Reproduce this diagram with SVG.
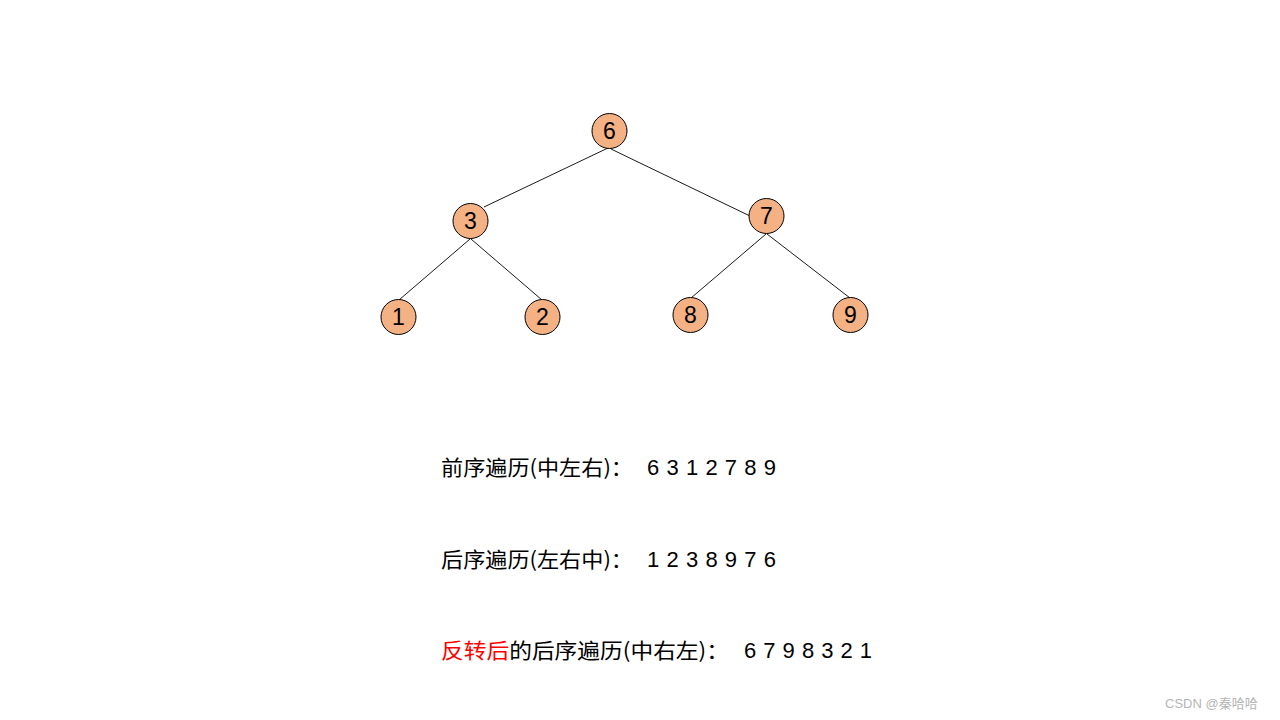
<svg xmlns="http://www.w3.org/2000/svg" width="1280" height="720" viewBox="0 0 1280 720">
<style>
.n circle{fill:#F4B183;stroke:#000;stroke-width:1}
.n text{font-family:"Liberation Sans","Noto Sans CJK SC",sans-serif;font-size:23px;text-anchor:middle;fill:#000}
.e line{stroke:#000;stroke-width:0.9}
.t{font-family:"Noto Sans CJK SC","Liberation Sans",sans-serif;font-size:21px;fill:#000}
.d{font-family:"Liberation Sans",sans-serif;font-size:22px;fill:#000}
.red{fill:#FF0000}
.wm{font-family:"Liberation Sans","Noto Sans CJK SC",sans-serif;font-size:13px;fill:#b5b5b5}
</style>
<rect width="1280" height="720" fill="#fff"/>
<g id="connectors" class="e">
<line x1="608" y1="148" x2="484" y2="207"/>
<line x1="611" y1="149" x2="750" y2="216"/>
<line x1="470" y1="239" x2="399" y2="300"/>
<line x1="471" y1="239" x2="542" y2="300"/>
<line x1="766" y1="234" x2="691" y2="298"/>
<line x1="767" y1="234" x2="850" y2="298"/>
</g>
<g id="n6" class="n"><circle cx="609.5" cy="131" r="17.5"/><text x="609.5" y="139">6</text></g>
<g id="n3" class="n"><circle cx="470.5" cy="221" r="17.5"/><text x="470.5" y="229">3</text></g>
<g id="n7" class="n"><circle cx="766.5" cy="216" r="17.5"/><text x="766.5" y="224">7</text></g>
<g id="n1" class="n"><circle cx="398.5" cy="317" r="17.5"/><text x="398.5" y="325">1</text></g>
<g id="n2" class="n"><circle cx="542.5" cy="317" r="17.5"/><text x="542.5" y="325">2</text></g>
<g id="n8" class="n"><circle cx="690.5" cy="315" r="17.5"/><text x="690.5" y="323">8</text></g>
<g id="n9" class="n"><circle cx="850.5" cy="315" r="17.5"/><text x="850.5" y="323">9</text></g>
<g id="line1">
<text class="t" x="441" y="475" textLength="192" lengthAdjust="spacingAndGlyphs">前序遍历(中左右)：</text>
<text class="d" x="647" y="475" textLength="129" lengthAdjust="spacing">6 3 1 2 7 8 9</text>
</g>
<g id="line2">
<text class="t" x="441" y="567" textLength="192" lengthAdjust="spacingAndGlyphs">后序遍历(左右中)：</text>
<text class="d" x="647" y="567" textLength="129" lengthAdjust="spacing">1 2 3 8 9 7 6</text>
</g>
<g id="line3">
<text class="t" x="441" y="658" textLength="288" lengthAdjust="spacingAndGlyphs"><tspan class="red">反转后</tspan>的后序遍历(中右左)：</text>
<text class="d" x="744" y="658" textLength="128" lengthAdjust="spacing">6 7 9 8 3 2 1</text>
</g>
<text class="wm" x="1165" y="708">CSDN @秦哈哈</text>
</svg>
